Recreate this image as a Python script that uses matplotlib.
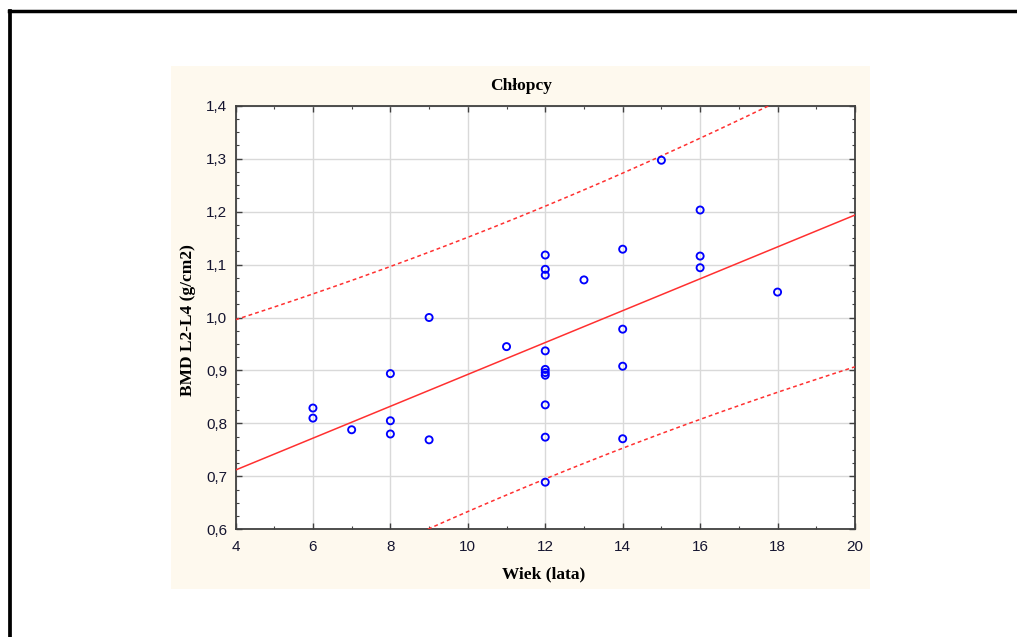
import numpy as np
import matplotlib
matplotlib.use("Agg")
import matplotlib.pyplot as plt
from matplotlib.ticker import MultipleLocator, FuncFormatter
from matplotlib.lines import Line2D
from matplotlib.patches import Rectangle

# Age (years) and lumbar BMD for the boys' group
wiek = [6, 6, 7, 8, 8, 8, 9, 9, 11,
        12, 12, 12, 12, 12, 12, 12, 12, 12, 12,
        13, 14, 14, 14, 14, 15, 16, 16, 16, 18]
bmd = [0.829, 0.810, 0.788, 0.894, 0.805, 0.780, 1.000, 0.769, 0.945,
       1.118, 1.091, 1.080, 0.937, 0.902, 0.896, 0.891, 0.835, 0.774, 0.689,
       1.071, 1.129, 0.978, 0.908, 0.771, 1.297, 1.203, 1.116, 1.094, 1.048]

x_ticks = [4, 6, 8, 10, 12, 14, 16, 18, 20]
y_ticks = [0.6, 0.7, 0.8, 0.9, 1.0, 1.1, 1.2, 1.3, 1.4]

W, H = 1017, 637
fig = plt.figure(figsize=(W / 100, H / 100), dpi=100)
fig.patch.set_facecolor("white")

# cream background panel behind the plot
fig.patches.append(Rectangle((171 / W, 1 - 589 / H), (870 - 171) / W, (589 - 66) / H,
                             transform=fig.transFigure, facecolor="#fef9ee",
                             edgecolor="none", zorder=-5))
# page frame: top and left edges
fig.lines.append(Line2D([10 / W, 10 / W], [0, 1 - 10.5 / H], transform=fig.transFigure,
                        color="black", linewidth=2.7, zorder=-4))
fig.lines.append(Line2D([8.5 / W, 1], [1 - 10.5 / H, 1 - 10.5 / H], transform=fig.transFigure,
                        color="black", linewidth=2.5, zorder=-4))

ax_l, ax_r, ax_t, ax_b = 235.5, 855, 105.7, 529.3
ax = fig.add_axes([ax_l / W, 1 - ax_b / H, (ax_r - ax_l) / W, (ax_b - ax_t) / H])
ax.set_zorder(5)
ax.set_facecolor("white")

x = np.array(wiek, dtype=float)
y = np.array(bmd, dtype=float)

# linear regression with 95% prediction band
n = len(x)
b1, b0 = np.polyfit(x, y, 1)
resid = y - (b0 + b1 * x)
s = np.sqrt(np.sum(resid ** 2) / (n - 2))
t_crit = 2.052  # t(0.975, 27)
xs = np.linspace(4, 20, 300)
ys = b0 + b1 * xs
half = t_crit * s * np.sqrt(1 + 1 / n + (xs - x.mean()) ** 2 / np.sum((x - x.mean()) ** 2))

ax.plot(xs, ys, color="#ff3030", linewidth=1.1, zorder=3)
ax.plot(xs, ys + half, color="#ff3030", linewidth=1.1, linestyle=(0, (2.5, 2)), zorder=3)
ax.plot(xs, ys - half, color="#ff3030", linewidth=1.1, linestyle=(0, (2.5, 2)), zorder=3)

ax.scatter(x, y, s=26, facecolors="none", edgecolors="#0000ff", linewidths=1.35, zorder=4)

ax.set_xlim(4, 20)
ax.set_ylim(0.6, 1.4)
ax.set_xticks(x_ticks)
ax.set_yticks(y_ticks)
ax.xaxis.set_minor_locator(MultipleLocator(1))
ax.yaxis.set_minor_locator(MultipleLocator(0.025))
ax.yaxis.set_major_formatter(FuncFormatter(lambda v, p: f"{v:.1f}".replace(".", ",")))
ax.xaxis.set_major_formatter(FuncFormatter(lambda v, p: f"{v:.0f}"))

ax.grid(True, which="major", color="#d9d9d9", linewidth=1.0, zorder=0)
ax.set_axisbelow(True)
ax.tick_params(which="both", direction="in", top=True, right=True, color="#404040")
ax.tick_params(which="major", length=4, width=1, labelsize=11, labelcolor="#151530")
ax.tick_params(axis="x", which="major", pad=8)
ax.tick_params(axis="y", which="major", pad=6)
ax.tick_params(which="minor", length=2.5, width=0.8)
for lab in ax.get_xticklabels() + ax.get_yticklabels():
    lab.set_family(["Liberation Sans", "DejaVu Sans"])
for sp in ax.spines.values():
    sp.set_color("#404040")
    sp.set_linewidth(1.3)

serif = ["Liberation Serif", "DejaVu Serif"]
fig.text(521 / W, 1 - 86 / H, "Chłopcy", ha="center", va="center",
         fontsize=12.5, fontweight="bold", family=serif)
fig.text(544 / W, 1 - 574 / H, "Wiek (lata)", ha="center", va="center",
         fontsize=12.5, fontweight="bold", family=serif)
fig.text(188 / W, 1 - 320 / H, "BMD L2-L4 (g/cm2)", ha="center", va="center",
         rotation=90, fontsize=12.5, fontweight="bold", family=serif)

fig.savefig("out.png", dpi=100)
